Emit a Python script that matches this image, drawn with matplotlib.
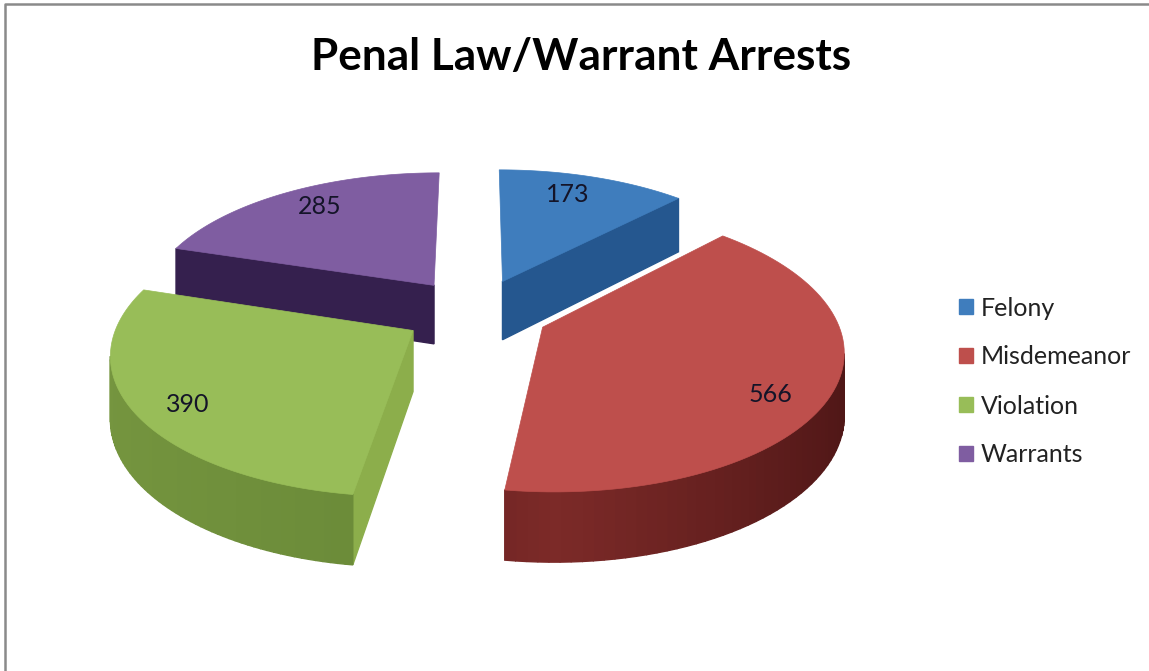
import numpy as np
import matplotlib
matplotlib.use("Agg")
import matplotlib.pyplot as plt
from matplotlib.patches import Polygon, Patch
from matplotlib.colors import to_rgb

categories = ["Felony", "Misdemeanor", "Violation", "Warrants"]
values = [173, 566, 390, 285]

top_colors = ["#3F7DBD", "#BE4F4C", "#98BD58", "#7F5DA1"]
arc_colors = [("#27588F", "#27588F"), ("#7C2A28", "#4E1616"), ("#6A8A38", "#75953F"), ("#35204E", "#35204E")]
wall_colors = ["#25578F", "#BE4F4C", "#8CAE4B", "#35204E"]
label_pos = [(568, 195), (771, 394), (188, 404), (320, 206)]

# projection of the pie, ground plane to pixels
cx, cy = 476, 312
rx, ry = 292, 136
persp = 0.145
explode = 0.25
depth = 60

plt.rcParams['font.family'] = ['Lato', 'DejaVu Sans']


def project(u, v):
  s = 1 / (1 - persp * v)
  return np.array([cx + rx * u * s, cy + ry * v * s]), s


def down(p, s):
  return p + np.array([0, depth * s ** 0.9])


def area(pts):
  x, y = np.array(pts).T
  return 0.5 * np.sum(x * np.roll(y, -1) - np.roll(x, -1) * y)


def draw_side(ax, g0, g1, color, min_area=0):
  p0, s0 = project(*g0)
  p1, s1 = project(*g1)
  quad = [p0, p1, down(p1, s1), down(p0, s0)]
  # arc runs clockwise on screen, so outside walls seen by the viewer come out negative
  if area(quad) < -min_area:
    ax.add_patch(Polygon(quad, closed=True, facecolor=color, edgecolor=color, lw=1.0, zorder=ax.zcount))


def draw_slice(ax, start, end, idx):
  mid = (start + end) / 2
  ou, ov = explode * np.sin(mid), -explode * np.cos(mid)
  angles = np.linspace(start, end, 80)
  ground = [(ou + np.sin(a), ov - np.cos(a)) for a in angles]
  apex = (ou, ov)
  ax.zcount += 1
  # walls: apex to first rim point, rim, last rim point to apex
  # near edge-on walls are left out, the reference shows none of them
  draw_side(ax, apex, ground[0], wall_colors[idx], min_area=800)
  draw_side(ax, ground[-1], apex, wall_colors[idx], min_area=800)
  c0, c1 = np.array(to_rgb(arc_colors[idx][0])), np.array(to_rgb(arc_colors[idx][1]))
  for i in range(len(ground) - 1):
    # shade runs with the rim from the front of the pie outward
    t = abs(np.sin((angles[i] + angles[i + 1]) / 2 - np.pi)) if idx != 3 else 0
    draw_side(ax, ground[i], ground[i + 1], tuple(c0 + (c1 - c0) * t))
  pts = [project(*apex)[0]] + [project(*g)[0] for g in ground]
  ax.add_patch(Polygon(pts, closed=True, facecolor=top_colors[idx], edgecolor=top_colors[idx], lw=0.5, zorder=ax.zcount))


fig = plt.figure(figsize=(11.49, 6.71), dpi=100)
ax = fig.add_axes([0, 0, 1, 1])
ax.set_xlim(0, 1149)
ax.set_ylim(671, 0)
ax.axis("off")
ax.zcount = 1

# chart frame, only top and left edges are in the crop
ax.plot([5, 5, 1149], [671, 3.5, 3.5], color="#8A8A8A", lw=1.8, zorder=1)

fractions = np.array(values) / sum(values) * 2 * np.pi
ends = np.cumsum(fractions)
starts = ends - fractions
for idx in [3, 0, 2, 1]:
  draw_slice(ax, starts[idx], ends[idx], idx)

for val, (x, y) in zip(values, label_pos):
  ax.text(x, y, str(val), ha="center", va="center", fontsize=18, color="#141428", zorder=50)

ax.text(581, 57, "Penal Law/Warrant Arrests", ha="center", va="center", fontsize=31.8, fontweight="bold", color="black", zorder=50)

handles = [Patch(facecolor=c, edgecolor=c) for c in top_colors]
ax.legend(handles, categories, loc="center left", bbox_to_anchor=(936.5 / 1149, 1 - 381.5 / 671), frameon=False,
          fontsize=18, handlelength=0.56, handleheight=0.56, handletextpad=0.32, labelspacing=1.04, labelcolor="#222222")

fig.savefig("out.png", dpi=100)
